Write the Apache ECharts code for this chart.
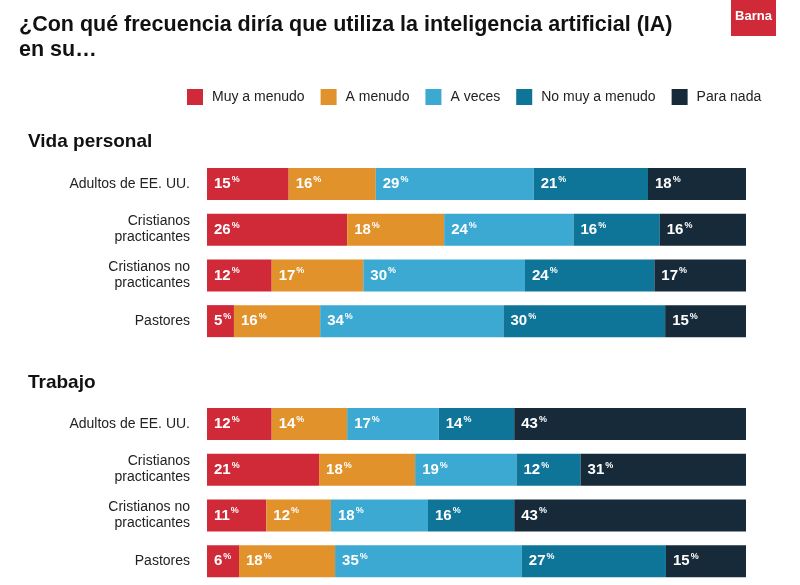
<!DOCTYPE html>
<html>
<head>
<meta charset="utf-8">
<script src="https://cdn.jsdelivr.net/npm/echarts@6/dist/echarts.min.js"></script>
<style>
html,body{margin:0;padding:0;background:#fff;}
#c{width:800px;height:585px;}
</style>
</head>
<body>
<div id="c"></div>
<script>
const categories = ['Adultos de EE. UU.', 'Cristianos\npracticantes', 'Cristianos no\npracticantes', 'Pastores'];
const seriesNames = ['Muy a menudo', 'A menudo', 'A veces', 'No muy a menudo', 'Para nada'];
const colors = ['#d02a38', '#e1922a', '#3ba9d2', '#0e7498', '#172a39'];
// Vida personal: one array per series, one value per category
const personalMuy = [15, 26, 12, 5];
const personalAmenudo = [16, 18, 17, 16];
const personalAveces = [29, 24, 30, 34];
const personalNoMuy = [21, 16, 24, 30];
const personalNada = [18, 16, 17, 15];
// Trabajo
const trabajoMuy = [12, 21, 11, 6];
const trabajoAmenudo = [14, 18, 12, 18];
const trabajoAveces = [17, 19, 18, 35];
const trabajoNoMuy = [14, 12, 16, 27];
const trabajoNada = [43, 31, 43, 15];

const personal = [personalMuy, personalAmenudo, personalAveces, personalNoMuy, personalNada];
const trabajo = [trabajoMuy, trabajoAmenudo, trabajoAveces, trabajoNoMuy, trabajoNada];

const FONT = '"Liberation Sans", Arial, sans-serif';

function rowTotals(block) {
  return categories.map((_, i) => block.reduce((s, arr) => s + arr[i], 0));
}

function buildSeries(block, gi) {
  const totals = rowTotals(block);
  return block.map((arr, si) => ({
    name: seriesNames[si],
    type: 'bar',
    stack: 'g' + gi,
    xAxisIndex: gi,
    yAxisIndex: gi,
    barWidth: 32,
    itemStyle: { color: colors[si] },
    label: {
      show: true,
      position: 'insideLeft',
      distance: 7,
      formatter: p => '{n|' + p.data.raw + '}{p|%}',
      rich: {
        n: { color: '#fff', fontSize: 15, fontWeight: 'bold', fontFamily: FONT, lineHeight: 18 },
        p: { color: '#fff', fontSize: 9, fontWeight: 'bold', fontFamily: FONT, verticalAlign: 'top', lineHeight: 12, padding: [0, 0, 6, 1] }
      }
    },
    data: arr.map((v, i) => ({ value: v / totals[i] * 100, raw: v }))
  }));
}

const chart = echarts.init(document.getElementById('c'), null, { renderer: 'canvas' });

const yAxisBase = {
  type: 'category',
  data: categories,
  inverse: true,
  axisLine: { show: false },
  axisTick: { show: false },
  axisLabel: { color: '#222', fontSize: 14, fontFamily: FONT, margin: 17, lineHeight: 16, align: 'right' }
};
const xAxisBase = { type: 'value', min: 0, max: 100, show: false };

chart.setOption({
  backgroundColor: '#fff',
  animation: false,
  title: [
    {
      text: '¿Con qué frecuencia diría que utiliza la inteligencia artificial (IA)\nen su…',
      left: 14, top: 8,
      textStyle: { fontSize: 21.5, fontWeight: 'bold', color: '#111', fontFamily: FONT, lineHeight: 25 }
    },
    {
      text: 'Vida personal', left: 23, top: 127,
      textStyle: { fontSize: 19, fontWeight: 'bold', color: '#111', fontFamily: FONT }
    },
    {
      text: 'Trabajo', left: 23, top: 368,
      textStyle: { fontSize: 19, fontWeight: 'bold', color: '#111', fontFamily: FONT }
    }
  ],
  graphic: [
    { type: 'rect', shape: { x: 731, y: 0, width: 45, height: 36 }, style: { fill: '#d02a38' } },
    { type: 'text', x: 753.5, y: 16, style: { text: 'Barna', fill: '#fff', font: 'bold 13px ' + FONT, textAlign: 'center', textVerticalAlign: 'middle' } }
  ],
  legend: {
    data: seriesNames,
    left: 182, top: 84,
    icon: 'rect', itemWidth: 16, itemHeight: 16, itemGap: 16,
    textStyle: { color: '#222', fontSize: 14, fontFamily: FONT, padding: [0, 0, 0, 4] }
  },
  grid: [
    { left: 207, right: 54, top: 161, height: 183 },
    { left: 207, right: 54, top: 401, height: 183 }
  ],
  xAxis: [Object.assign({ gridIndex: 0 }, xAxisBase), Object.assign({ gridIndex: 1 }, xAxisBase)],
  yAxis: [Object.assign({ gridIndex: 0 }, yAxisBase), Object.assign({ gridIndex: 1 }, yAxisBase)],
  series: buildSeries(personal, 0).concat(buildSeries(trabajo, 1))
});
</script>
</body>
</html>
